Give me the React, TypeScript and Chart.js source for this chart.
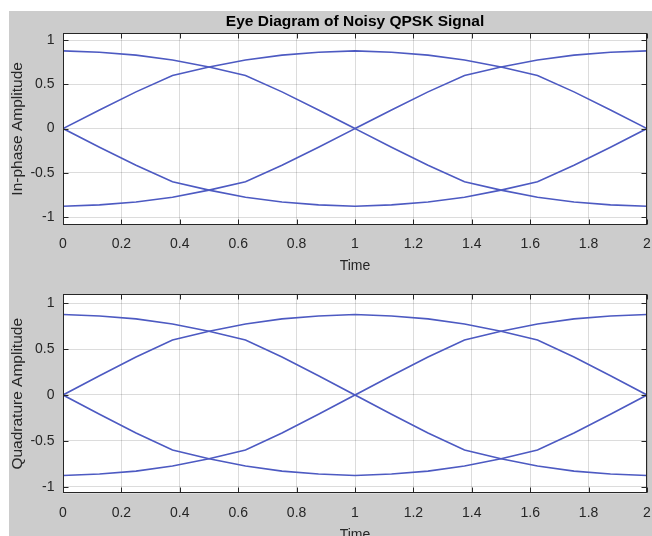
import React, { useEffect, useRef } from "react";
import { Chart, registerables } from "chart.js";

Chart.register(...registerables);

// ---- data ----
const timeSamples = [0, 0.125, 0.25, 0.375, 0.5, 0.625, 0.75, 0.875, 1, 1.125, 1.25, 1.375, 1.5, 1.625, 1.75, 1.875, 2];

const inPhaseUpperArc = [0, 0.21, 0.415, 0.6, 0.695, 0.775, 0.83, 0.862, 0.878, 0.862, 0.83, 0.775, 0.695, 0.6, 0.415, 0.21, 0];
const inPhaseLowerArc = [0, -0.21, -0.415, -0.6, -0.695, -0.775, -0.83, -0.862, -0.878, -0.862, -0.83, -0.775, -0.695, -0.6, -0.415, -0.21, 0];
const inPhaseUpperCross = [0.878, 0.862, 0.83, 0.775, 0.695, 0.6, 0.415, 0.21, 0, 0.21, 0.415, 0.6, 0.695, 0.775, 0.83, 0.862, 0.878];
const inPhaseLowerCross = [-0.878, -0.862, -0.83, -0.775, -0.695, -0.6, -0.415, -0.21, 0, -0.21, -0.415, -0.6, -0.695, -0.775, -0.83, -0.862, -0.878];

const quadratureUpperArc = [0, 0.21, 0.415, 0.6, 0.695, 0.775, 0.83, 0.862, 0.878, 0.862, 0.83, 0.775, 0.695, 0.6, 0.415, 0.21, 0];
const quadratureLowerArc = [0, -0.21, -0.415, -0.6, -0.695, -0.775, -0.83, -0.862, -0.878, -0.862, -0.83, -0.775, -0.695, -0.6, -0.415, -0.21, 0];
const quadratureUpperCross = [0.878, 0.862, 0.83, 0.775, 0.695, 0.6, 0.415, 0.21, 0, 0.21, 0.415, 0.6, 0.695, 0.775, 0.83, 0.862, 0.878];
const quadratureLowerCross = [-0.878, -0.862, -0.83, -0.775, -0.695, -0.6, -0.415, -0.21, 0, -0.21, -0.415, -0.6, -0.695, -0.775, -0.83, -0.862, -0.878];

const xTickValues = [0, 0.2, 0.4, 0.6, 0.8, 1, 1.2, 1.4, 1.6, 1.8, 2];
const xTickLabels = ["0", "0.2", "0.4", "0.6", "0.8", "1", "1.2", "1.4", "1.6", "1.8", "2"];
const yTickValues = [-1, -0.5, 0, 0.5, 1];
const yTickLabels = ["-1", "-0.5", "0", "0.5", "1"];

const chartTitle = "Eye Diagram of Noisy QPSK Signal";
const xAxisTitle = "Time";
const inPhaseTitle = "In-phase Amplitude";
const quadratureTitle = "Quadrature Amplitude";

// ---- styles ----
const FONT = "'Liberation Sans', Arial, Helvetica, sans-serif";
const TEXT = "#262626";
const LINE = "#4d5ac2";
const GRID = "rgba(38,38,38,0.16)";

const frame = {
  id: "matlabFrame",
  beforeDraw(chart: any) {
    const { ctx, chartArea: a } = chart;
    ctx.save();
    ctx.fillStyle = "#ffffff";
    ctx.fillRect(a.left, a.top, a.right - a.left, a.bottom - a.top);
    ctx.restore();
  },
  afterDraw(chart: any) {
    const { ctx, chartArea: a, scales } = chart;
    const L = Math.round(a.left) + 0.5;
    const R = Math.round(a.right) - 0.5;
    const T = Math.round(a.top) + 0.5;
    const B = Math.round(a.bottom) - 0.5;
    ctx.save();
    ctx.strokeStyle = TEXT;
    ctx.lineWidth = 1;
    ctx.beginPath();
    const tl = 5;
    scales.x.ticks.forEach((t: any) => {
      const px = Math.round(scales.x.getPixelForValue(t.value)) + 0.5;
      ctx.moveTo(px, T);
      ctx.lineTo(px, T + tl);
      ctx.moveTo(px, B);
      ctx.lineTo(px, B - tl);
    });
    scales.y.ticks.forEach((t: any) => {
      const py = Math.round(scales.y.getPixelForValue(t.value)) + 0.5;
      ctx.moveTo(L, py);
      ctx.lineTo(L + tl, py);
      ctx.moveTo(R, py);
      ctx.lineTo(R - tl, py);
    });
    ctx.stroke();
    ctx.strokeRect(L, T, R - L, B - T);
    ctx.restore();
  },
};

function makeSeries(values: number[]) {
  return {
    data: timeSamples.map((t, i) => ({ x: t, y: values[i] })),
    borderColor: LINE,
    borderWidth: 1.6,
    pointRadius: 0,
    tension: 0,
    fill: false,
  };
}

function makeConfig(o: {
  series: number[][];
  yMin: number;
  yMax: number;
  yTitle: string;
  showTitle: boolean;
  padTop: number;
  xHeight: number;
  xTitlePad: number;
}) {
  return {
    type: "line",
    data: { datasets: o.series.map(makeSeries) },
    plugins: [frame],
    options: {
      animation: false,
      responsive: false,
      devicePixelRatio: 1,
      layout: { padding: { top: o.padTop, left: 0, right: 5, bottom: 0 } },
      plugins: {
        legend: { display: false },
        tooltip: { enabled: false },
        title: {
          display: o.showTitle,
          text: chartTitle,
          fullSize: false,
          color: "#000000",
          font: { family: FONT, size: 15.5, weight: "bold", lineHeight: 1.2 },
          padding: { top: 12, bottom: 2.4 },
        },
      },
      scales: {
        x: {
          type: "linear",
          min: 0,
          max: 2,
          afterBuildTicks: (s: any) => {
            s.ticks = xTickValues.map((v) => ({ value: v }));
          },
          afterFit: (s: any) => {
            s.height = o.xHeight;
          },
          ticks: {
            autoSkip: false,
            maxRotation: 0,
            padding: 0,
            color: TEXT,
            font: { family: FONT, size: 14 },
            callback: (_v: any, i: number) => xTickLabels[i],
          },
          grid: { color: GRID, drawTicks: true, tickLength: 11, tickColor: "rgba(0,0,0,0)", lineWidth: 1 },
          border: { display: false },
          title: {
            display: true,
            text: xAxisTitle,
            color: TEXT,
            font: { family: FONT, size: 14, lineHeight: 1.2 },
            padding: { top: 0, bottom: o.xTitlePad },
          },
        },
        y: {
          type: "linear",
          min: o.yMin,
          max: o.yMax,
          afterBuildTicks: (s: any) => {
            s.ticks = yTickValues.map((v) => ({ value: v }));
          },
          afterFit: (s: any) => {
            s.width = 63;
          },
          ticks: {
            padding: 0,
            color: TEXT,
            font: { family: FONT, size: 14 },
            callback: (_v: any, i: number) => yTickLabels[i],
          },
          grid: { color: GRID, drawTicks: true, tickLength: 8.5, tickColor: "rgba(0,0,0,0)", lineWidth: 1 },
          border: { display: false },
          title: {
            display: true,
            text: o.yTitle,
            color: TEXT,
            font: { family: FONT, size: 15.5, lineHeight: 1.2 },
            padding: { top: 8.3, bottom: 0 },
          },
        },
      },
    },
  };
}

export default function App() {
  const topRef = useRef<HTMLCanvasElement>(null);
  const botRef = useRef<HTMLCanvasElement>(null);

  useEffect(() => {
    const c1 = new Chart(
      topRef.current as HTMLCanvasElement,
      makeConfig({
        series: [inPhaseUpperArc, inPhaseLowerArc, inPhaseUpperCross, inPhaseLowerCross],
        yMin: -1.086,
        yMax: 1.08,
        yTitle: inPhaseTitle,
        showTitle: true,
        padTop: 0,
        xHeight: 284 - 224.7,
        xTitlePad: 9.6,
      }) as any
    );
    const c2 = new Chart(
      botRef.current as HTMLCanvasElement,
      makeConfig({
        series: [quadratureUpperArc, quadratureLowerArc, quadratureUpperCross, quadratureLowerCross],
        yMin: -1.072,
        yMax: 1.098,
        yTitle: quadratureTitle,
        showTitle: false,
        padTop: 26.3,
        xHeight: 290 - 225.3,
        xTitlePad: 14.8,
      }) as any
    );
    return () => {
      c1.destroy();
      c2.destroy();
    };
  }, []);

  return (
    <div
      style={{
        position: "fixed",
        left: 0,
        top: 0,
        width: 652,
        height: 536,
        overflow: "hidden",
        background: "#ffffff",
      }}
    >
      <div
        style={{
          position: "absolute",
          left: 9,
          top: 11,
          right: 0,
          bottom: 0,
          background: "#cccccc",
        }}
      />
      <canvas ref={topRef} width={652} height={284} style={{ position: "absolute", left: 0, top: 0 }} />
      <canvas ref={botRef} width={652} height={290} style={{ position: "absolute", left: 0, top: 268 }} />
    </div>
  );
}
